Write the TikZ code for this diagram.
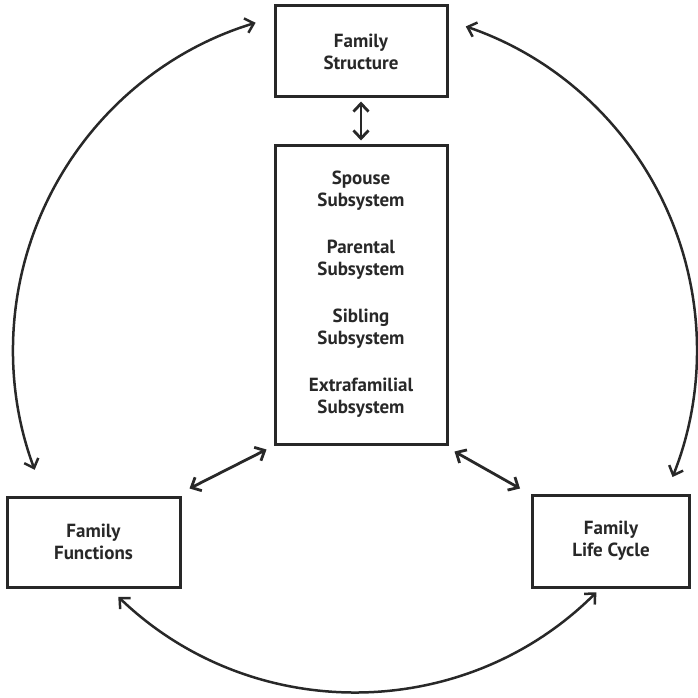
\documentclass[tikz,border=0pt]{standalone}
\usepackage{fontspec}
\setmainfont{PT Sans}
\usetikzlibrary{arrows.meta}
\definecolor{ink}{RGB}{40,40,40}
\begin{document}
\begin{tikzpicture}[x=1pt,y=1pt,
  box/.style={draw=ink, line width=3pt, fill=white, inner sep=0pt, align=center,
    font=\fontsize{19}{22}\selectfont\bfseries, text=ink},
  link/.style={draw=ink, line width=2.8pt,
    {Straight Barb[length=8pt,width=15pt]}-{Straight Barb[length=8pt,width=15pt]}},
  arcarrow/.style={draw=ink, line width=2.5pt,
    {Straight Barb[length=8pt,width=15pt]}-{Straight Barb[length=8pt,width=15pt]}}]
\useasboundingbox (0,0) rectangle (697,-698);
\node[box, minimum width=172pt, minimum height=91pt] (struct) at (361,-51.5) {Family\\Structure};
\node[box, minimum width=172pt, minimum height=299pt] (sub) at (361,-294.5)
  {Spouse\\Subsystem\\[25pt]Parental\\Subsystem\\[25pt]Sibling\\Subsystem\\[25pt]Extrafamilial\\Subsystem};
\node[box, minimum width=173pt, minimum height=90pt] (func) at (93.5,-542) {Family\\Functions};
\node[box, minimum width=157pt, minimum height=92pt] (life) at (611,-541) {Family\\Life Cycle};

\draw[link] ([yshift=-3pt]struct.south) -- ([yshift=3pt]sub.north);
\draw[link] ([shift={(8,7)}]func.north east) -- ([shift={(-7,-4)}]sub.south west);
\draw[link] ([shift={(6,-6)}]sub.south east) -- ([shift={(-11,5)}]life.north west);

\coordinate (O) at (355,-350);
\draw[arcarrow] ([shift={(106.9:342)}]O) arc[start angle=106.9, end angle=200.5, radius=342];
\draw[arcarrow] ([shift={(71.1:342)}]O) arc[start angle=71.1, end angle=-21.8, radius=342];
\draw[arcarrow] ([shift={(226.2:342)}]O) arc[start angle=226.2, end angle=314.9, radius=342];
\end{tikzpicture}
\end{document}
